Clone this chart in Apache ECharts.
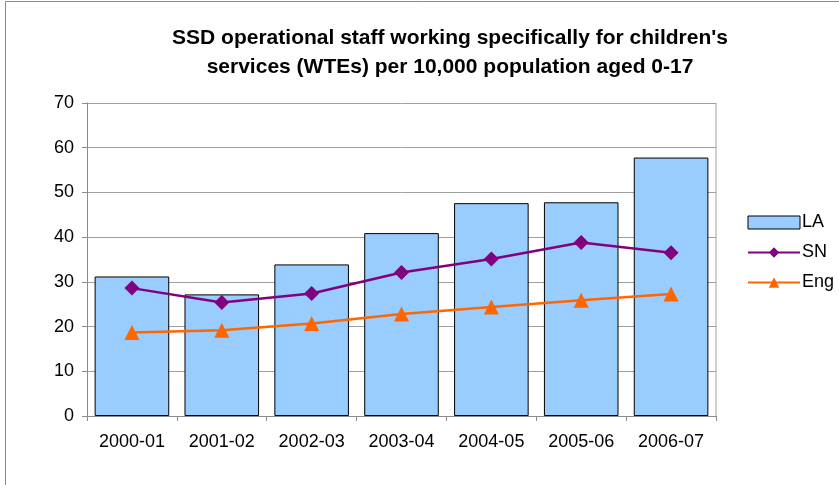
<!DOCTYPE html>
<html><head><meta charset="utf-8">
<script src="https://cdn.jsdelivr.net/npm/echarts@6/dist/echarts.min.js"></script>
<style>html,body{margin:0;padding:0;background:#fff}#c{width:839px;height:485px}</style>
</head><body><div id="c"></div>
<script>
const categories = ['2000-01','2001-02','2002-03','2003-04','2004-05','2005-06','2006-07'];
const laValues = [31.2, 27.2, 33.9, 40.9, 47.6, 47.8, 57.8];
const snValues = [28.6, 25.4, 27.4, 32.1, 35.1, 38.8, 36.5];
const engValues = [18.7, 19.2, 20.7, 22.8, 24.4, 25.9, 27.3];
const yTicks = [0, 10, 20, 30, 40, 50, 60, 70];

const chart = echarts.init(document.getElementById('c'), null, {renderer: 'canvas'});
const font = 'Liberation Sans, Arial, sans-serif';
chart.setOption({
  animation: false,
  backgroundColor: '#fff',
  title: {
    text: "SSD operational staff working specifically for children's\nservices (WTEs) per 10,000 population aged 0-17",
    left: 445, top: 19, textAlign: 'center',
    textStyle: {fontFamily: font, fontSize: 21, fontWeight: 'bold', color: '#000', lineHeight: 29}
  },
  graphic: [
    {type: 'polyline', shape: {points: [[5.5, 490], [5.5, 1.5], [845, 1.5]]}, style: {stroke: '#8c8c8c', lineWidth: 1, fill: null}},
    {type: 'line', shape: {x1: 716, y1: 103, x2: 716, y2: 416}, style: {stroke: '#a0a0a0', lineWidth: 1}}
  ],
  legend: {
    orient: 'vertical', left: 742, top: 208, itemGap: 11, itemWidth: 52, itemHeight: 13,
    textStyle: {fontFamily: font, fontSize: 18, color: '#000', lineHeight: 19, padding: [0, 0, 0, -3]},
    data: [
      {name: 'LA', icon: 'rect', itemStyle: {color: '#99CCFF', borderColor: '#000', borderWidth: 1}},
      {name: 'SN'},
      {name: 'Eng'}
    ]
  },
  grid: {left: 87, right: 123, top: 103, bottom: 69},
  xAxis: {
    type: 'category', data: categories,
    axisLine: {lineStyle: {color: '#8c8c8c', width: 1}},
    axisTick: {show: true, alignWithLabel: false, length: 5, lineStyle: {color: '#8c8c8c'}},
    axisLabel: {fontFamily: font, fontSize: 18, color: '#000', margin: 17}
  },
  yAxis: {
    type: 'value', min: 0, max: 70, interval: 10,
    axisLine: {show: true, lineStyle: {color: '#8c8c8c', width: 1}},
    axisTick: {show: true, length: 5, lineStyle: {color: '#8c8c8c'}},
    axisLabel: {fontFamily: font, fontSize: 18, color: '#000', margin: 13,
      formatter: v => yTicks.includes(v) ? String(v) : ''},
    splitLine: {lineStyle: {color: '#a0a0a0', width: 1}}
  },
  series: [
    {name: 'LA', type: 'bar', data: laValues, barCategoryGap: '17%',
      itemStyle: {color: '#99CCFF', borderColor: '#000', borderWidth: 1}},
    {name: 'SN', type: 'line', data: snValues, symbol: 'diamond', symbolSize: 15,
      lineStyle: {color: '#800080', width: 2.5}, itemStyle: {color: '#800080'}},
    {name: 'Eng', type: 'line', data: engValues, symbol: 'triangle', symbolSize: 15,
      lineStyle: {color: '#FF6600', width: 2.5}, itemStyle: {color: '#FF6600'}}
  ]
});
</script></body></html>
